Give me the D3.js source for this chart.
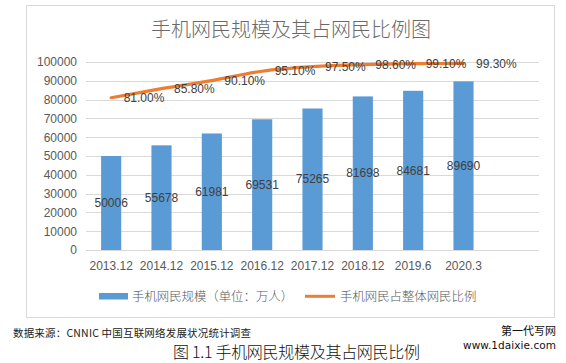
<!DOCTYPE html>
<html>
<head>
<meta charset="utf-8">
<script src="https://cdn.jsdelivr.net/npm/d3@7"></script>
<style>
  html, body { margin: 0; padding: 0; background: #fff; }
  svg { display: block; }
</style>
</head>
<body>
<div id="chart"></div>
<script>
let barBlue = "#5B9BD5";
let lineOrange = "#ED7D31";
let gridGrey = "#D9D9D9";
let axisText = "#595959";
let labelText = "#404040";

const cjk = "'Noto Sans CJK SC', 'Noto Sans', sans-serif";
const latin = "'Liberation Sans', Arial, sans-serif";

// data
const categories = ["2013.12", "2014.12", "2015.12", "2016.12", "2017.12", "2018.12", "2019.6", "2020.3"];
const users = [50006, 55678, 61981, 69531, 75265, 81698, 84681, 89690];
const share = [0.81, 0.858, 0.901, 0.951, 0.975, 0.986, 0.991, 0.993];
const yTicks = d3.range(0, 100001, 10000);

const title = "手机网民规模及其占网民比例图";
const legendBar = "手机网民规模（单位：万人）";
const legendLine = "手机网民占整体网民比例";
const sourceNote = "数据来源：CNNIC 中国互联网络发展状况统计调查";
const caption = "图 1.1  手机网民规模及其占网民比例";

const width = 566;
const height = 363;
const plot = { left: 86, right: 539, top: 62, bottom: 250 };

const svg = d3.select("#chart")
  .append("svg")
  .attr("width", width)
  .attr("height", height);

svg.append("rect")
  .attr("width", width).attr("height", height)
  .attr("fill", "#fff");

// chart frame
svg.append("rect")
  .attr("x", 26.5).attr("y", 5.5)
  .attr("width", 528).attr("height", 312)
  .attr("fill", "#fff")
  .attr("stroke", gridGrey);

// excel leaves an empty slot on the right (9 bands for 8 categories)
const x = d3.scaleBand()
  .domain(categories.concat([" "]))
  .range([plot.left, plot.right])
  .paddingInner(0.6)
  .paddingOuter(0.3);

const y = d3.scaleLinear().domain([0, 100000]).range([plot.bottom, plot.top]);
const y2 = d3.scaleLinear().domain([0, 1]).range([plot.bottom, plot.top]);

const cx = (d) => x(d) + x.bandwidth() / 2;

// title
svg.append("text")
  .attr("x", 291).attr("y", 37)
  .attr("text-anchor", "middle")
  .style("font-family", cjk)
  .style("font-size", "20px")
  .style("font-weight", 300)
  .style("fill", "#6a6a6a")
  .text(title);

// gridlines
svg.append("g")
  .selectAll("line")
  .data(yTicks)
  .enter()
  .append("line")
  .attr("x1", plot.left).attr("x2", plot.right)
  .attr("y1", (d) => Math.round(y(d)) + 0.5)
  .attr("y2", (d) => Math.round(y(d)) + 0.5)
  .attr("stroke", gridGrey);

// y axis labels
const yAxis = svg.append("g")
  .attr("transform", `translate(${plot.left - 9}, 0)`)
  .call(d3.axisLeft(y).tickValues(yTicks).tickSize(0).tickPadding(0).tickFormat(d3.format("d")));
yAxis.select(".domain").remove();
yAxis.selectAll("text")
  .style("font-family", latin)
  .style("font-size", "12px")
  .style("fill", axisText);

// x axis labels
const xAxis = svg.append("g")
  .attr("transform", `translate(0, ${plot.bottom})`)
  .call(d3.axisBottom(x).tickValues(categories).tickSize(0).tickPadding(11));
xAxis.select(".domain").remove();
xAxis.selectAll("text")
  .style("font-family", latin)
  .style("font-size", "12px")
  .style("fill", axisText);

// bars
svg.append("g")
  .selectAll("rect")
  .data(categories)
  .enter()
  .append("rect")
  .attr("x", (d) => x(d))
  .attr("width", x.bandwidth())
  .attr("y", (d, i) => y(users[i]))
  .attr("height", (d, i) => plot.bottom - y(users[i]))
  .attr("fill", barBlue);

// bar labels in the middle of each bar
svg.append("g")
  .selectAll("text")
  .data(categories)
  .enter()
  .append("text")
  .attr("x", (d) => cx(d))
  .attr("y", (d, i) => (y(users[i]) + plot.bottom) / 2)
  .attr("dy", "0.35em")
  .attr("text-anchor", "middle")
  .style("font-family", latin)
  .style("font-size", "12px")
  .style("fill", labelText)
  .text((d, i) => users[i]);

// smoothed share line
const line = d3.line()
  .x((d, i) => cx(categories[i]))
  .y((d) => y2(d))
  .curve(d3.curveCatmullRom.alpha(0.5));

svg.append("path")
  .datum(share)
  .attr("d", line)
  .attr("fill", "none")
  .attr("stroke", lineOrange)
  .attr("stroke-width", 3.2)
  .attr("stroke-linecap", "round");

svg.append("g")
  .selectAll("text")
  .data(share)
  .enter()
  .append("text")
  .attr("x", (d, i) => cx(categories[i]) + 12.5)
  .attr("y", (d) => y2(d))
  .attr("dy", "0.35em")
  .style("font-family", latin)
  .style("font-size", "12px")
  .style("fill", labelText)
  .text((d) => d3.format(".2%")(d));

// legend
const legend = svg.append("g");
legend.append("rect")
  .attr("x", 99).attr("y", 293)
  .attr("width", 29).attr("height", 6.5)
  .attr("fill", barBlue);
legend.append("text")
  .attr("x", 132).attr("y", 300.5)
  .style("font-family", cjk)
  .style("font-size", "12.4px")
  .style("font-weight", 300)
  .style("fill", axisText)
  .text(legendBar);
legend.append("line")
  .attr("x1", 305).attr("x2", 335)
  .attr("y1", 296.3).attr("y2", 296.3)
  .attr("stroke", lineOrange)
  .attr("stroke-width", 3);
legend.append("text")
  .attr("x", 340).attr("y", 300.5)
  .style("font-family", cjk)
  .style("font-size", "12.4px")
  .style("font-weight", 300)
  .style("fill", axisText)
  .text(legendLine);

// notes under the frame
svg.append("text")
  .attr("x", 13).attr("y", 337)
  .attr("textLength", 238)
  .style("font-family", cjk)
  .style("font-size", "10.5px")
  .style("fill", "#222")
  .text(sourceNote);

svg.append("text")
  .attr("x", 173).attr("y", 358)
  .attr("textLength", 247)
  .style("font-family", cjk)
  .style("font-size", "16px")
  .style("font-weight", 300)
  .style("fill", "#111")
  .text(caption);

svg.append("text")
  .attr("x", 556).attr("y", 335)
  .attr("text-anchor", "end")
  .style("font-family", cjk)
  .style("font-size", "11px")
  .style("fill", "#111")
  .text("第一代写网");

svg.append("text")
  .attr("x", 556).attr("y", 348.5)
  .attr("text-anchor", "end")
  .attr("textLength", 93)
  .style("font-family", "'DejaVu Sans', sans-serif")
  .style("font-size", "10.5px")
  .style("fill", "#111")
  .text("www.1daixie.com");
</script>
</body>
</html>
